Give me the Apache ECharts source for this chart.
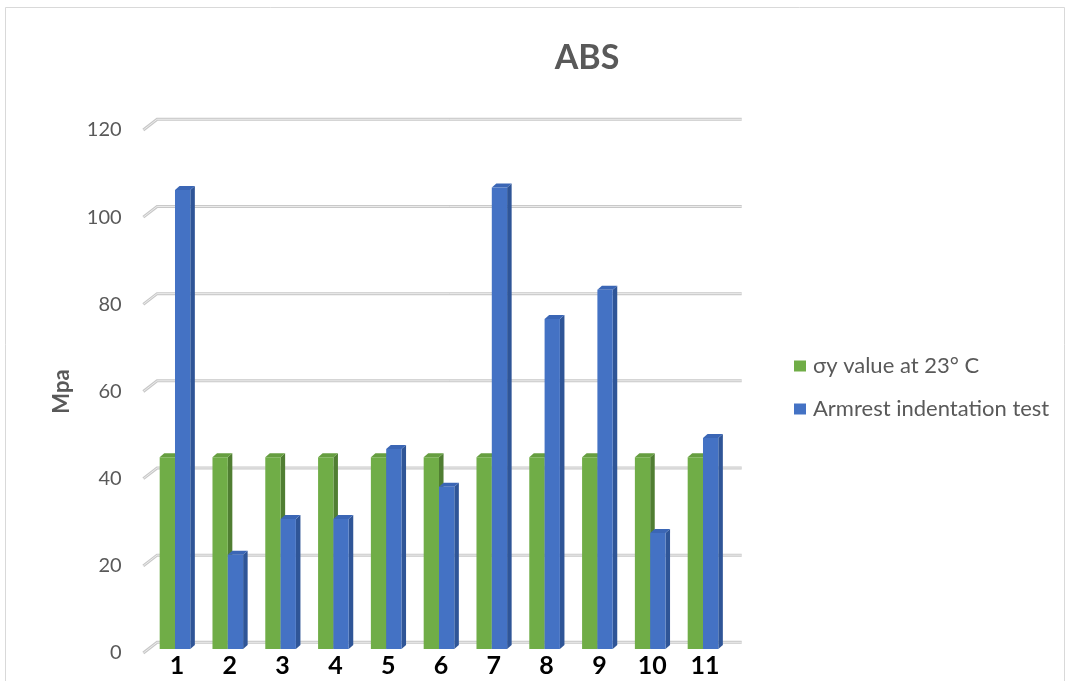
<!DOCTYPE html>
<html>
<head>
<meta charset="utf-8">
<script src="https://cdn.jsdelivr.net/npm/echarts@6/dist/echarts.min.js"></script>
<style>
html,body{margin:0;padding:0;background:#fff;}
#c{width:1065px;height:681px;}
</style>
</head>
<body>
<div id="c"></div>
<script>
// ---- data ----
const categories = ['1','2','3','4','5','6','7','8','9','10','11'];
const seriesNames = ['σy value at 23° C', 'Armrest indentation test'];
const sigmaY = [44, 44, 44, 44, 44, 44, 44, 44, 44, 44, 44];
const armrest = [105.3, 21.6, 29.8, 29.8, 45.9, 37.2, 105.9, 75.7, 82.4, 26.6, 48.4];
const yTicks = [0, 20, 40, 60, 80, 100, 120];

const FONT = 'Lato, "Open Sans", "DejaVu Sans", sans-serif';
const TEXT = '#595959';

const chart = echarts.init(document.getElementById('c'), null, {renderer: 'canvas'});

function bar3D(offset, front, side, top) {
  return function (params, api) {
    const idx = api.value(0), v = api.value(1);
    const p = api.coord([idx, v]);
    const b = api.coord([idx, 0]);
    const band = api.size([1, 0])[0];
    const w = band * 0.29, d = band * 0.086, dy = 4;
    const x0 = p[0] + offset * band;
    const yt = p[1], yb = b[1];
    return {
      type: 'group',
      children: [
        {type: 'polygon', shape: {points: [[x0 + w, yt], [x0 + w + d, yt - dy], [x0 + w + d, yb - dy], [x0 + w, yb]]}, style: {fill: side}},
        {type: 'polygon', shape: {points: [[x0, yt], [x0 + d, yt - dy], [x0 + w + d, yt - dy], [x0 + w, yt]]}, style: {fill: top}},
        {type: 'rect', shape: {x: x0, y: yt, width: w, height: yb - yt}, style: {fill: front}}
      ]
    };
  };
}

function gridLines(params, api) {
  const v = api.value(1);
  const y = api.coord([0, v])[1];
  const cs = params.coordSys;
  const pts = [[cs.x - 7.3, y], [cs.x + 6.5, y - 10.7], [cs.x + cs.width + 10.3, y - 10.7]];
  return {
    type: 'group',
    children: [
      {type: 'polyline', shape: {points: pts}, style: {stroke: '#c8c8c8', lineWidth: 3, fill: null}},
      {type: 'polyline', shape: {points: pts}, style: {stroke: '#ececec', lineWidth: 1, fill: null}}
    ]
  };
}

const option = {
  backgroundColor: '#fff',
  animation: false,
  title: {
    text: 'ABS', left: 582, top: 36, textAlign: 'center',
    textStyle: {fontFamily: FONT, fontSize: 34, fontWeight: 'bold', color: TEXT}
  },
  legend: {
    orient: 'vertical', left: 789, top: 349,
    itemWidth: 12, itemHeight: 11, itemGap: 19, icon: 'rect',
    data: seriesNames,
    textStyle: {fontFamily: FONT, fontSize: 22, color: TEXT, lineHeight: 24, padding: [0, 0, 0, 2]}
  },
  graphic: [{
    type: 'rect', left: 3, top: 5, shape: {width: 1059, height: 700},
    style: {fill: null, stroke: '#d9d9d9', lineWidth: 1}, silent: true, z: -10
  }],
  grid: [
    {left: 150.6, right: 333.6, top: 130, bottom: 28},
    {left: 150.6, right: 333.6, top: 126, bottom: 32}
  ],
  xAxis: [
    {type: 'category', gridIndex: 0, data: categories,
     axisLine: {show: false}, axisTick: {show: false},
     axisLabel: {margin: 0, fontFamily: FONT, fontSize: 25, fontWeight: 'bold', color: '#000', lineHeight: 25}},
    {type: 'category', gridIndex: 1, data: categories, show: false}
  ],
  yAxis: [
    {type: 'value', gridIndex: 0, min: 0, max: 120, interval: 20,
     axisLine: {show: false}, axisTick: {show: false}, splitLine: {show: false},
     axisLabel: {margin: 29, fontFamily: FONT, fontSize: 20, color: TEXT},
     name: 'Mpa', nameLocation: 'middle', nameRotate: 90, nameGap: 78,
     nameTextStyle: {fontFamily: FONT, fontSize: 22, fontWeight: 'bold', color: TEXT}},
    {type: 'value', gridIndex: 1, min: 0, max: 120, interval: 20, show: false}
  ],
  series: [
    {type: 'custom', xAxisIndex: 0, yAxisIndex: 0, silent: true, z: 1,
     renderItem: gridLines,
     data: yTicks.map(v => [0, v])},
    {name: seriesNames[0], type: 'custom', xAxisIndex: 1, yAxisIndex: 1, z: 2,
     itemStyle: {color: '#70AD47'},
     renderItem: bar3D(-0.328, '#70AD47', '#507E32', '#669E40'),
     data: sigmaY.map((v, i) => [i, v])},
    {name: seriesNames[1], type: 'custom', xAxisIndex: 1, yAxisIndex: 1, z: 3,
     itemStyle: {color: '#4472C4'},
     renderItem: bar3D(-0.038, '#4472C4', '#2F5597', '#3B66B5'),
     data: armrest.map((v, i) => [i, v])}
  ]
};
chart.setOption(option);
</script>
</body>
</html>
